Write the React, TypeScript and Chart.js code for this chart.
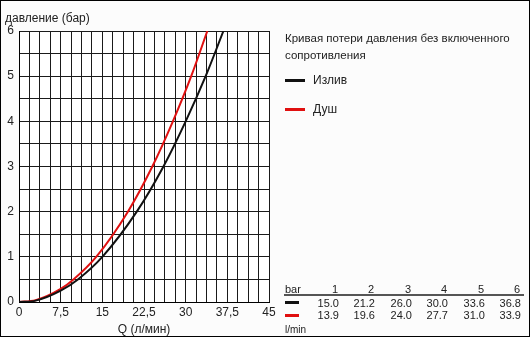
import React, { useEffect, useRef } from "react";
import { Chart, registerables } from "chart.js";

Chart.register(...registerables);

// Pressure levels (bar) and flow rates (l/min) from the table
const pressureBar = [1, 2, 3, 4, 5, 6];
const flowSpout = [15.0, 21.2, 26.0, 30.0, 33.6, 36.8];
const flowShower = [13.9, 19.6, 24.0, 27.7, 31.0, 33.9];

// Low-pressure points (Q, bar)
const spoutLowQ = [0, 3, 7.5, 10.6];
const spoutLowP = [0, 0.03, 0.25, 0.5];
const showerLowQ = [0, 3, 7.5, 9.8];
const showerLowP = [0, 0.04, 0.29, 0.5];

const seriesNames = ["Излив", "Душ"];
const seriesColors = ["#111111", "#e01010"];

const xTitle = "Q (л/мин)";
const yTitle = "давление (бар)";
const noteLines = ["Кривая потери давления без включенного", "сопротивления"];
const tableHeader = "bar";
const tableUnit = "l/min";

function toPoints(lowQ: number[], lowP: number[], q: number[], p: number[]) {
  const pts = lowQ.map((x, i) => ({ x, y: lowP[i] }));
  q.forEach((x, i) => pts.push({ x, y: p[i] }));
  return pts;
}

const font = "'Liberation Sans', Arial, sans-serif";

export default function App() {
  const ref = useRef<HTMLCanvasElement | null>(null);

  useEffect(() => {
    document.body.style.margin = "0";
    const ctx = ref.current!.getContext("2d")!;
    const chart = new Chart(ctx, {
      type: "line",
      data: {
        datasets: [
          {
            label: seriesNames[0],
            data: toPoints(spoutLowQ, spoutLowP, flowSpout, pressureBar),
            borderColor: seriesColors[0],
            borderWidth: 2,
            pointRadius: 0,
            cubicInterpolationMode: "monotone",
          },
          {
            label: seriesNames[1],
            data: toPoints(showerLowQ, showerLowP, flowShower, pressureBar),
            borderColor: seriesColors[1],
            borderWidth: 2,
            pointRadius: 0,
            cubicInterpolationMode: "monotone",
          },
        ],
      },
      options: {
        animation: false,
        responsive: false,
        maintainAspectRatio: false,
        layout: { padding: { top: 31, right: 261, bottom: 0, left: 0 } },
        plugins: { legend: { display: false }, tooltip: { enabled: false } },
        scales: {
          x: {
            type: "linear",
            min: 0,
            max: 45,
            afterFit: (s: any) => {
              s.height = 35;
            },
            ticks: {
              stepSize: 1.875,
              autoSkip: false,
              maxRotation: 0,
              padding: 3,
              color: "#222",
              font: { family: font, size: 12 },
              callback: (v: any) =>
                Math.abs(v / 7.5 - Math.round(v / 7.5)) < 1e-6 ? String(v).replace(".", ",") : "",
            },
            grid: { color: "#1a1a1a", lineWidth: 1, drawTicks: false },
            border: { color: "#000", width: 1 },
            title: {
              display: true,
              text: xTitle,
              color: "#222",
              font: { family: font, size: 12 },
              padding: { top: 0, bottom: 0 },
            },
          },
          y: {
            type: "linear",
            min: 0,
            max: 6,
            afterFit: (s: any) => {
              s.width = 19;
            },
            ticks: {
              stepSize: 0.5,
              autoSkip: false,
              padding: 5,
              color: "#222",
              font: { family: font, size: 12 },
              callback: (v: any) => (Number.isInteger(v) ? String(v) : ""),
            },
            grid: { color: "#1a1a1a", lineWidth: 1, drawTicks: false },
            border: { color: "#000", width: 1 },
          },
        },
      },
      plugins: [
        {
          id: "bg",
          beforeDraw: (c: any) => {
            const a = c.chartArea;
            c.ctx.save();
            c.ctx.fillStyle = "#ffffff";
            c.ctx.fillRect(a.left, a.top, a.right - a.left, a.bottom - a.top);
            c.ctx.restore();
          },
        },
      ],
    } as any);
    return () => chart.destroy();
  }, []);

  const colX = [339, 375, 412, 448, 485, 521];
  const txt: React.CSSProperties = {
    position: "absolute",
    fontFamily: font,
    color: "#222",
    whiteSpace: "nowrap",
    lineHeight: "1",
  };

  return (
    <div
      style={{
        position: "relative",
        width: 530,
        height: 337,
        boxSizing: "border-box",
        border: "1px solid #000",
        background: "#fcfcfc",
        overflow: "hidden",
      }}
    >
      <canvas ref={ref} width={530} height={337} style={{ position: "absolute", left: -1, top: -1 }} />
      <div style={{ ...txt, left: 4, top: 11, fontSize: 12 }}>{yTitle}</div>
      {noteLines.map((t, i) => (
        <div key={t} style={{ ...txt, left: 284, top: 32 + i * 17, fontSize: 11.5 }}>
          {t}
        </div>
      ))}
      {seriesNames.map((n, i) => (
        <React.Fragment key={n}>
          <div
            style={{
              position: "absolute",
              left: 284,
              top: 78 + i * 29,
              width: 20,
              height: 3,
              background: seriesColors[i],
            }}
          />
          <div style={{ ...txt, left: 312, top: 73 + i * 29, fontSize: 12 }}>{n}</div>
        </React.Fragment>
      ))}
      <div style={{ ...txt, left: 284, top: 283, fontSize: 11 }}>{tableHeader}</div>
      {pressureBar.map((p, i) => (
        <div key={"h" + p} style={{ ...txt, right: 530 - colX[i], top: 283, fontSize: 11 }}>
          {p}
        </div>
      ))}
      <div style={{ position: "absolute", left: 283, top: 293, width: 240, height: 2, background: "#555" }} />
      <div style={{ position: "absolute", left: 284, top: 300, width: 14, height: 3, background: seriesColors[0] }} />
      <div style={{ position: "absolute", left: 284, top: 313, width: 14, height: 3, background: seriesColors[1] }} />
      {flowSpout.map((v, i) => (
        <div key={"s" + i} style={{ ...txt, right: 530 - colX[i] - 1, top: 297, fontSize: 11 }}>
          {v.toFixed(1)}
        </div>
      ))}
      {flowShower.map((v, i) => (
        <div key={"r" + i} style={{ ...txt, right: 530 - colX[i] - 1, top: 309, fontSize: 11 }}>
          {v.toFixed(1)}
        </div>
      ))}
      <div style={{ ...txt, left: 284, top: 324, fontSize: 10 }}>{tableUnit}</div>
    </div>
  );
}
